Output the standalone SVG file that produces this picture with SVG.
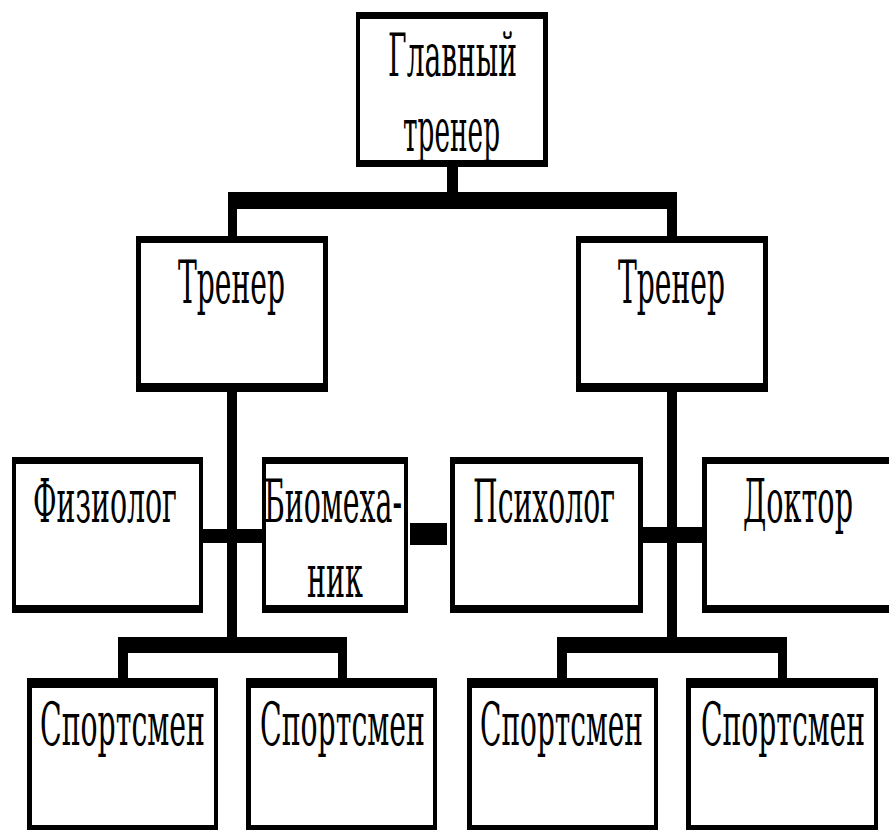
<svg xmlns="http://www.w3.org/2000/svg" width="889" height="830" viewBox="0 0 889 830">
<style>
.o{fill:#000}
.i{fill:#fff}
.t{font-family:"DejaVu Serif","Liberation Serif",serif;font-size:60px;fill:#000}
</style>
<rect width="889" height="830" fill="#fff"/>
<g id="connectors" class="o">
<rect x="447" y="165" width="11" height="30"/>
<rect x="228" y="192" width="449" height="17"/>
<rect x="228" y="200" width="9" height="38"/>
<rect x="667" y="200" width="10" height="38"/>
<rect x="227" y="390" width="10" height="250"/>
<rect x="667" y="390" width="10" height="250"/>
<rect x="201" y="529" width="63" height="14"/>
<rect x="641" y="527" width="63" height="16"/>
<rect x="410" y="523" width="37" height="22"/>
<rect x="118" y="637" width="229" height="16"/>
<rect x="118" y="645" width="10" height="35"/>
<rect x="338" y="645" width="9" height="35"/>
<rect x="557" y="637" width="230" height="16"/>
<rect x="557" y="645" width="10" height="35"/>
<rect x="778" y="645" width="9" height="35"/>
</g>
<g id="head">
<rect class="o" x="356" y="12" width="192" height="155"/>
<rect class="i" x="360" y="19" width="183" height="141"/>
<text class="t" x="388" y="76" textLength="129" lengthAdjust="spacingAndGlyphs">Главный</text>
<text class="t" x="403" y="151" textLength="97" lengthAdjust="spacingAndGlyphs">тренер</text>
</g>
<g id="coach-left">
<rect class="o" x="136" y="236" width="192" height="156"/>
<rect class="i" x="141" y="243" width="182" height="140"/>
<text class="t" x="178" y="303" textLength="107" lengthAdjust="spacingAndGlyphs">Тренер</text>
</g>
<g id="coach-right">
<rect class="o" x="576" y="236" width="192" height="156"/>
<rect class="i" x="581" y="243" width="182" height="140"/>
<text class="t" x="618" y="303" textLength="107" lengthAdjust="spacingAndGlyphs">Тренер</text>
</g>
<g id="physiologist">
<rect class="o" x="12" y="457" width="191" height="156"/>
<rect class="i" x="16" y="464" width="183" height="141"/>
<text class="t" x="33" y="522" textLength="144" lengthAdjust="spacingAndGlyphs">Физиолог</text>
</g>
<g id="biomechanic">
<rect class="o" x="262" y="457" width="146" height="156"/>
<rect class="i" x="266" y="464" width="138" height="141"/>
<text class="t" x="264" y="522" textLength="138" lengthAdjust="spacingAndGlyphs">Биомеха-</text>
<text class="t" x="307" y="597" textLength="56" lengthAdjust="spacingAndGlyphs">ник</text>
</g>
<g id="psychologist">
<rect class="o" x="450" y="457" width="193" height="156"/>
<rect class="i" x="455" y="464" width="183" height="141"/>
<text class="t" x="473" y="522" textLength="142" lengthAdjust="spacingAndGlyphs">Психолог</text>
</g>
<g id="doctor">
<rect class="o" x="702" y="457" width="200" height="156"/>
<rect class="i" x="707" y="464" width="195" height="141"/>
<text class="t" x="743" y="522" textLength="110" lengthAdjust="spacingAndGlyphs">Доктор</text>
</g>
<g id="athlete-1">
<rect class="o" x="27" y="678" width="191" height="160"/>
<rect class="i" x="32" y="688" width="182" height="137"/>
<text class="t" x="40" y="745" textLength="165" lengthAdjust="spacingAndGlyphs">Спортсмен</text>
</g>
<g id="athlete-2">
<rect class="o" x="246" y="678" width="191" height="160"/>
<rect class="i" x="251" y="688" width="182" height="137"/>
<text class="t" x="260" y="745" textLength="165" lengthAdjust="spacingAndGlyphs">Спортсмен</text>
</g>
<g id="athlete-3">
<rect class="o" x="467" y="678" width="191" height="160"/>
<rect class="i" x="472" y="688" width="182" height="137"/>
<text class="t" x="480" y="745" textLength="163" lengthAdjust="spacingAndGlyphs">Спортсмен</text>
</g>
<g id="athlete-4">
<rect class="o" x="686" y="678" width="192" height="160"/>
<rect class="i" x="691" y="688" width="183" height="137"/>
<text class="t" x="701" y="745" textLength="164" lengthAdjust="spacingAndGlyphs">Спортсмен</text>
</g>
</svg>
